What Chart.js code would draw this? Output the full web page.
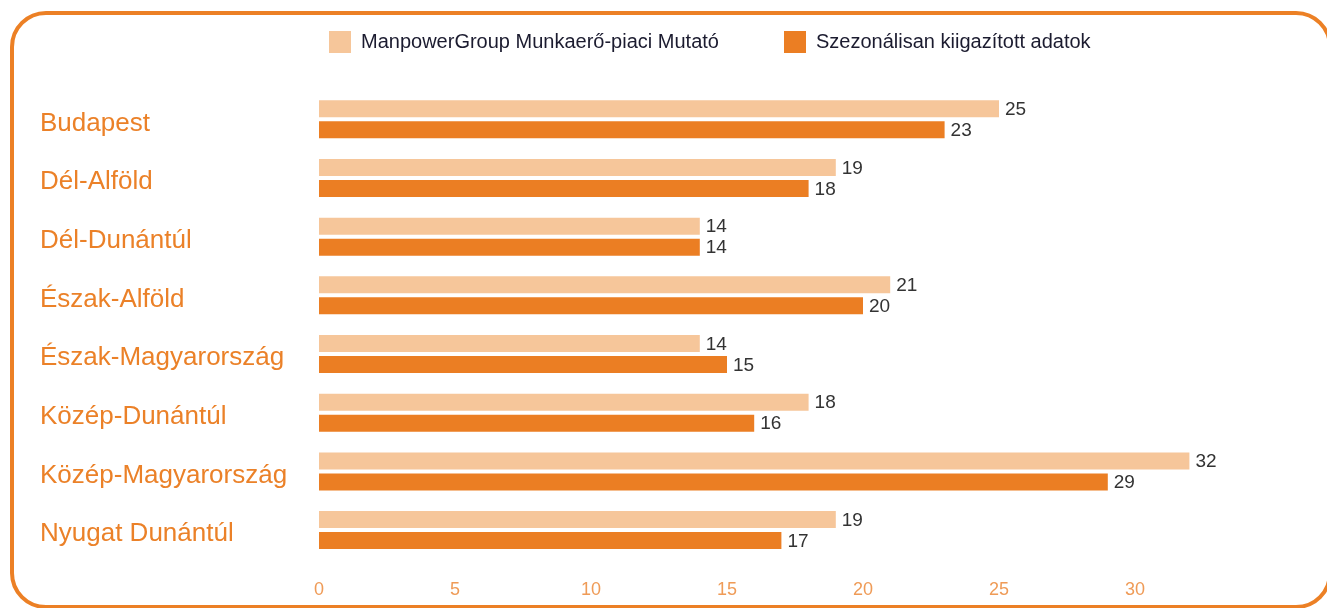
<!DOCTYPE html>
<html lang="hu">
<head>
<meta charset="utf-8">
<title>Munkaerő-piaci Mutató régiónként</title>
<script src="https://cdn.jsdelivr.net/npm/chart.js@4/dist/chart.umd.min.js"></script>
<style>
  html, body { margin: 0; padding: 0; background: #fff; overflow: hidden; }
  body { width: 1327px; height: 608px; position: relative; font-family: "Liberation Sans", Arial, sans-serif; }
  #frame {
    position: absolute; left: 10px; top: 11px; width: 1322px; height: 598px;
    box-sizing: border-box; border: 4px solid #EC8025; border-radius: 36px;
  }
  #wrap { position: absolute; left: 0; top: 0; width: 1327px; height: 608px; }
  .legend { position: absolute; top: 30px; display: flex; align-items: center; font-size: 20px; color: #1B1B2F; }
  .legend i { display: inline-block; width: 22px; height: 22px; margin-right: 10px; }
</style>
</head>
<body>
<div id="wrap"><canvas id="chart"></canvas></div>
<div id="frame"></div>
<div class="legend" id="leg1" style="left:329px"></div>
<div class="legend" id="leg2" style="left:784px"></div>
<script>
const LIGHT = '#F6C69A';
const DARK = '#EB7E23';
const LABEL = '#EB8128';
const TICK = '#EF9B57';
const FONT = '"Liberation Sans", Arial, sans-serif';

// ─── Data ────────────────────────────────────────────────────────────────
const regions = [
  'Budapest', 'Dél-Alföld', 'Dél-Dunántúl', 'Észak-Alföld',
  'Észak-Magyarország', 'Közép-Dunántúl', 'Közép-Magyarország', 'Nyugat Dunántúl',
];
const seriesNames = ['ManpowerGroup Munkaerő-piaci Mutató', 'Szezonálisan kiigazított adatok'];
const outlook = [25, 19, 14, 21, 14, 18, 32, 19];
const adjusted = [23, 18, 14, 20, 15, 16, 29, 17];
const xTicks = [0, 5, 10, 15, 20, 25, 30];

// legend (HTML, same colours as the datasets)
[[LIGHT, 'leg1'], [DARK, 'leg2']].forEach(([color, id], i) => {
  document.getElementById(id).innerHTML = `<i style="background:${color}"></i><span>${seriesNames[i]}</span>`;
});

// value labels at the end of each bar
const valueLabels = {
  id: 'valueLabels',
  afterDatasetsDraw(chart) {
    const ctx = chart.ctx;
    ctx.save();
    ctx.font = `19px ${FONT}`;
    ctx.fillStyle = '#333333';
    ctx.textBaseline = 'middle';
    chart.data.datasets.forEach((ds, i) => {
      chart.getDatasetMeta(i).data.forEach((bar, j) => {
        ctx.fillText(String(ds.data[j]), bar.x + 6, bar.y + 1);
      });
    });
    ctx.restore();
  },
};

new Chart(document.getElementById('chart'), {
  type: 'bar',
  data: {
    labels: regions,
    datasets: [
      { label: seriesNames[0], data: outlook, backgroundColor: LIGHT,
        categoryPercentage: 0.7155, barPercentage: 0.81 },
      { label: seriesNames[1], data: adjusted, backgroundColor: DARK,
        categoryPercentage: 0.7155, barPercentage: 0.81 },
    ],
  },
  options: {
    indexAxis: 'y',
    responsive: true,
    maintainAspectRatio: false,
    animation: false,
    layout: { padding: { left: 40, right: 56, top: 90, bottom: 7 } },
    plugins: {
      legend: { display: false },
      tooltip: { enabled: false },
    },
    scales: {
      x: {
        min: 0,
        max: 35,
        grid: { display: false, drawTicks: false },
        border: { display: false },
        afterBuildTicks: axis => { axis.ticks = xTicks.map(v => ({ value: v })); },
        afterFit: axis => { axis.height = 41.6; },
        ticks: { color: TICK, font: { family: FONT, size: 18 }, padding: 20 },
      },
      y: {
        grid: { display: false, drawTicks: false },
        border: { display: false },
        afterFit: axis => { axis.width = 279; },
        ticks: { color: LABEL, crossAlign: 'far', labelOffset: 4, font: { family: FONT, size: 26 } },
      },
    },
  },
  plugins: [valueLabels],
});
</script>
</body>
</html>
